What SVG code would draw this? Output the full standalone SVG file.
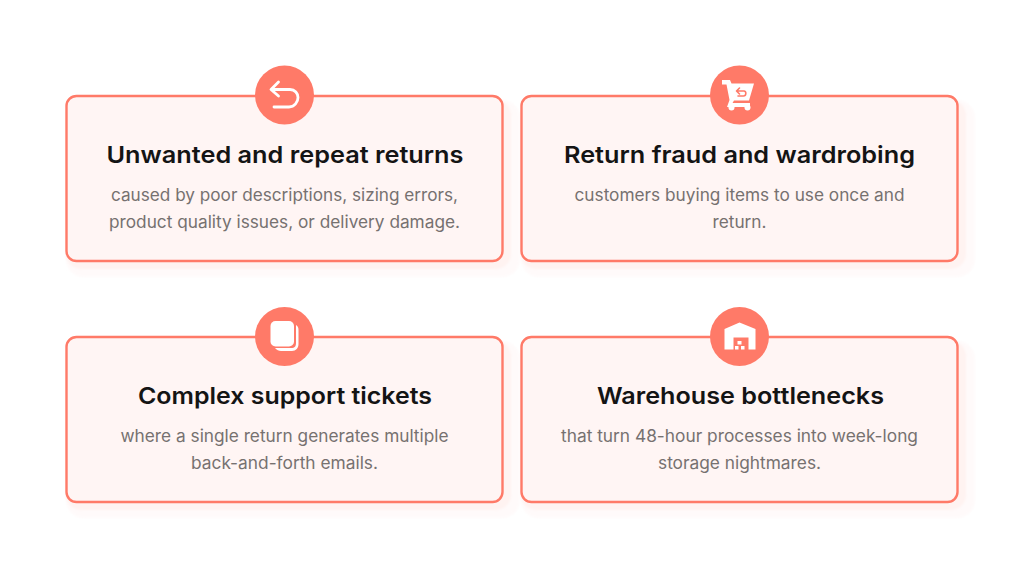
<svg xmlns="http://www.w3.org/2000/svg" width="1024" height="569" viewBox="0 0 1024 569">
<defs><filter id="soft" x="-5%" y="-10%" width="110%" height="120%"><feGaussianBlur stdDeviation="1"/></filter></defs>
<style>
.halo{fill:#fffafa;filter:url(#soft)}
.shadow{fill:#fff3f1;filter:url(#soft)}
.card{fill:#fff5f4;stroke:#ff7a68;stroke-width:2.400}
.disc{fill:#ff7a68}
.title{font-family:"Inter","Liberation Sans",sans-serif;font-weight:600;font-size:23.5px;fill:#141414;text-anchor:middle}
.body{font-family:"Inter","Liberation Sans",sans-serif;font-size:17px;fill:#767170;text-anchor:middle}
.ico{fill:#fff}
.line{fill:none;stroke:#fff;stroke-width:2.800;stroke-linecap:round;stroke-linejoin:round}
</style>
<rect width="1024" height="569" fill="#fff"/>
<g id="card-unwanted">
<rect class="halo" x="66" y="100" width="454" height="177" rx="18"/>
<rect class="shadow" x="66" y="100" width="445" height="169" rx="15"/>
<rect class="card" x="66.500" y="96" width="436" height="165" rx="10"/>
<circle class="disc" cx="284.500" cy="95" r="29.500"/>
<path class="line" d="M278.500 82L271 89.500L278.500 96M272.500 89.500H290C295 89.500 298 93.500 298 97.500C298 102 294.500 107 289 107H274"/>
<text class="title" x="285" y="163" textLength="357" lengthAdjust="spacingAndGlyphs">Unwanted and repeat returns</text>
<text class="body" x="284.500" y="200.500" textLength="347" lengthAdjust="spacingAndGlyphs">caused by poor descriptions, sizing errors,</text>
<text class="body" x="284.500" y="227.500" textLength="351" lengthAdjust="spacingAndGlyphs">product quality issues, or delivery damage.</text>
</g>
<g id="card-fraud">
<rect class="halo" x="521" y="100" width="454" height="177" rx="18"/>
<rect class="shadow" x="521" y="100" width="445" height="169" rx="15"/>
<rect class="card" x="521.500" y="96" width="436" height="165" rx="10"/>
<circle class="disc" cx="739.500" cy="95" r="29.500"/>
<path class="ico" d="M722 80H730L731.500 83.500H754L749 100.500H734L732.500 103H750V107H727L729.500 100L726.500 84.500H722Z"/>
<path d="M739.500 88L736.500 91L739.500 94M737 91H744C746.500 91 746.500 96 743.500 96H738" fill="none" stroke="#ff7a68" stroke-width="1.600" stroke-linecap="round" stroke-linejoin="round"/>
<circle class="ico" cx="731.500" cy="107.500" r="3"/>
<circle class="ico" cx="747.500" cy="107.500" r="3"/>
<text class="title" x="739.500" y="163" textLength="351" lengthAdjust="spacingAndGlyphs">Return fraud and wardrobing</text>
<text class="body" x="739.500" y="200.500" textLength="330" lengthAdjust="spacingAndGlyphs">customers buying items to use once and</text>
<text class="body" x="739.500" y="227.500" textLength="54" lengthAdjust="spacingAndGlyphs">return.</text>
</g>
<g id="card-tickets">
<rect class="halo" x="66" y="341" width="454" height="177" rx="18"/>
<rect class="shadow" x="66" y="341" width="445" height="169" rx="15"/>
<rect class="card" x="66.500" y="337" width="436" height="165" rx="10"/>
<circle class="disc" cx="284.500" cy="336.500" r="29.500"/>
<path d="M296 325C298 326 298.500 328 298.500 330V344C298.500 348 296 351 292 351H281C279 351 276.500 350 275 348H291C295 348 296 346 296 343Z" class="ico"/>
<rect class="ico" x="270.500" y="321" width="23.500" height="25.500" rx="5"/>
<text class="title" x="285" y="404" textLength="294" lengthAdjust="spacingAndGlyphs">Complex support tickets</text>
<text class="body" x="284.500" y="442" textLength="328" lengthAdjust="spacingAndGlyphs">where a single return generates multiple</text>
<text class="body" x="284.500" y="469" textLength="187" lengthAdjust="spacingAndGlyphs">back-and-forth emails.</text>
</g>
<g id="card-warehouse">
<rect class="halo" x="521" y="341" width="454" height="177" rx="18"/>
<rect class="shadow" x="521" y="341" width="445" height="169" rx="15"/>
<rect class="card" x="521.500" y="337" width="436" height="165" rx="10"/>
<circle class="disc" cx="739.500" cy="336.500" r="29.500"/>
<path class="ico" fill-rule="evenodd" d="M739.500 322.500L755.500 329V349.500H748.500V337.500H733.500V349.500H724.500V329Z"/>
<rect class="ico" x="737.500" y="341" width="4" height="3.500"/>
<rect class="ico" x="735" y="346" width="3.500" height="3.500"/>
<rect class="ico" x="741" y="346" width="3.500" height="3.500"/>
<text class="title" x="740.500" y="404" textLength="287" lengthAdjust="spacingAndGlyphs">Warehouse bottlenecks</text>
<text class="body" x="739.500" y="442" textLength="357" lengthAdjust="spacingAndGlyphs">that turn 48-hour processes into week-long</text>
<text class="body" x="739.500" y="469" textLength="163" lengthAdjust="spacingAndGlyphs">storage nightmares.</text>
</g>
<g id="connectors"/>
</svg>
